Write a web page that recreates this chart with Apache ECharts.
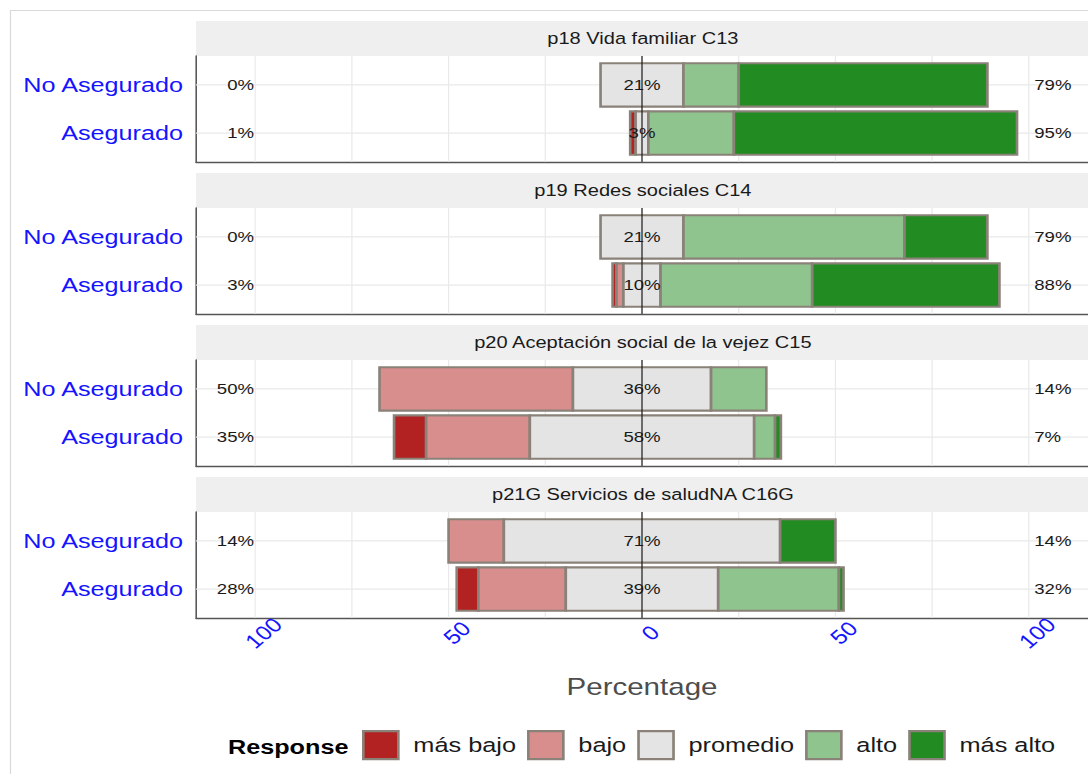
<!DOCTYPE html>
<html>
<head>
<meta charset="utf-8">
<script src="https://cdn.jsdelivr.net/npm/echarts@6/dist/echarts.min.js"></script>
<style>
  html, body { margin: 0; padding: 0; background: #fff; overflow: hidden; }
  #chart { transform-origin: 0 0; }
</style>
</head>
<body>
<div id="chart"></div>
<script>
// ---- data -------------------------------------------------------------
const facets = [
  'p18 Vida familiar C13',
  'p19 Redes sociales C14',
  'p20 Aceptación social de la vejez C15',
  'p21G Servicios de saludNA C16G'
];
const groups = ['No Asegurado', 'Asegurado'];
const levels = ['más bajo', 'bajo', 'promedio', 'alto', 'más alto'];

// percentage of answers per facet, each pair is [No Asegurado, Asegurado]
const masBajo  = [[0, 1.4],       [0, 1.0],      [0, 8.3],      [0, 5.6]];
const bajo     = [[0, 0],         [0, 1.8],      [50.0, 26.8],  [14.29, 22.6]];
const promedio = [[21.43, 3.3],   [21.43, 9.6],  [35.71, 58.0], [71.43, 39.4]];
const alto     = [[14.29, 22.1],  [57.14, 39.2], [14.29, 5.4],  [0, 31.2]];
const masAlto  = [[64.29, 73.2],  [21.43, 48.4], [0, 1.5],      [14.29, 1.2]];

const gridTicks = [-100, -75, -50, -25, 0, 25, 50, 75, 100];
const tickLabels = [-100, -50, 0, 50, 100];

// ---- styling / layout --------------------------------------------------
const S = 1.2;                    // horizontal stretch of the drawing
const W = 1088 / S, H = 774;
const sx = v => v / S;            // page x -> drawing x
const FONT = '"Liberation Sans", Arial, Helvetica, sans-serif';
const colors = ['#b22222', '#d98e8e', '#e4e4e4', '#8fc48f', '#228b22'];
const BORDER = '#8a8178';
const PANEL_L = 196, PANEL_R = 1089.8;
const FIRST_TOP = 21, STEP = 152, STRIP_H = 35, PANEL_H = 106;
const X_MIN = -115.3, X_MAX = 115.3, Y_MIN = 0.4, Y_MAX = 2.6, BAR_H = 0.9;
const LEFT_LABEL_X = -100.3, RIGHT_LABEL_X = 101.4;

const levelValues = [masBajo, bajo, promedio, alto, masAlto];
const yOf = i => groups.length - i;   // first group on top

const el = document.getElementById('chart');
el.style.width = W + 'px';
el.style.height = H + 'px';
el.style.transform = 'scaleX(' + S + ')';
const chart = echarts.init(el, null, { renderer: 'svg', width: W, height: H });

const grids = [], xAxes = [], yAxes = [], series = [];
const graphics = [
  { type: 'rect', z: -10, silent: true,
    shape: { x: sx(10.5), y: 10.5, width: 2000, height: 2000 },
    style: { fill: 'none', stroke: '#d9d9d9', lineWidth: 1 } }
];

facets.forEach((title, k) => {
  const stripTop = FIRST_TOP + STEP * k;
  const top = stripTop + STRIP_H;
  const last = k === facets.length - 1;

  graphics.push({ type: 'rect', silent: true,
    shape: { x: sx(PANEL_L), y: stripTop, width: sx(1100 - PANEL_L), height: STRIP_H },
    style: { fill: '#efefef' } });
  graphics.push({ type: 'text', silent: true,
    x: sx((PANEL_L + PANEL_R) / 2), y: stripTop + STRIP_H / 2,
    style: { text: title, font: '16.7px ' + FONT, fill: '#1a1a1a',
      align: 'center', verticalAlign: 'middle',
      textAlign: 'center', textVerticalAlign: 'middle' } });

  grids.push({ left: sx(PANEL_L), top: top, width: sx(PANEL_R - PANEL_L), height: PANEL_H,
    show: true, backgroundColor: '#ffffff', borderWidth: 0 });

  xAxes.push({
    gridIndex: k, type: 'value', min: X_MIN, max: X_MAX, position: 'bottom',
    splitLine: { show: false }, axisTick: { show: false },
    axisLine: { show: true, onZero: false, lineStyle: { color: '#555555', width: 1.3 } },
    axisLabel: last ? {
      show: true, customValues: tickLabels,
      formatter: v => String(Math.abs(v)),
      rotate: 45, align: 'center', verticalAlign: 'top', margin: 8,
      color: '#1414ff', fontSize: 20, fontFamily: FONT
    } : { show: false },
    name: last ? 'Percentage' : '',
    nameLocation: 'middle', nameGap: 56,
    nameTextStyle: { color: '#4d4d4d', fontSize: 24.6, fontFamily: FONT }
  });

  yAxes.push({
    gridIndex: k, type: 'value', min: Y_MIN, max: Y_MAX,
    splitLine: { show: false }, axisTick: { show: false },
    axisLine: { show: true, onZero: false, lineStyle: { color: '#555555', width: 1.3 } },
    axisLabel: {
      show: true, customValues: groups.map((g, i) => yOf(i)),
      formatter: v => groups[groups.length - v],
      margin: sx(13), color: '#1414ff', fontSize: 21, fontFamily: FONT
    }
  });

  // panel grid lines
  series.push({
    type: 'custom', xAxisIndex: k, yAxisIndex: k, z: 1, silent: true,
    data: gridTicks.map(v => [v]), encode: { x: 0 },
    renderItem: (params, api) => {
      const v = api.value(0);
      const a = api.coord([v, Y_MIN]), b = api.coord([v, Y_MAX]);
      return { type: 'line', shape: { x1: a[0], y1: a[1], x2: b[0], y2: b[1] },
        style: { stroke: '#e9e9e9', lineWidth: 1 } };
    }
  });
  series.push({
    type: 'custom', xAxisIndex: k, yAxisIndex: k, z: 1, silent: true,
    data: groups.map((g, i) => [yOf(i)]), encode: { y: 0 },
    renderItem: (params, api) => {
      const v = api.value(0);
      const a = api.coord([X_MIN, v]), b = api.coord([X_MAX, v]);
      return { type: 'line', shape: { x1: a[0], y1: a[1], x2: b[0], y2: b[1] },
        style: { stroke: '#e9e9e9', lineWidth: 1.2 } };
    }
  });

  // diverging stacked bars: neutral share is centred on zero
  const rows = groups.map((g, i) => {
    const vals = levelValues.map(arr => arr[k][i]);
    let start = -(vals[0] + vals[1] + vals[2] / 2);
    const segs = vals.map(v => { const s = [start, start + v]; start += v; return s; });
    return { vals, segs, y: yOf(i) };
  });

  levels.forEach((name, l) => {
    const data = [];
    rows.forEach(r => {
      if (r.vals[l] > 0) data.push([r.segs[l][0], r.segs[l][1], r.y]);
    });
    series.push({
      type: 'custom', name: name, xAxisIndex: k, yAxisIndex: k, z: 3, silent: true,
      itemStyle: { color: colors[l] },
      data: data, encode: { x: [0, 1], y: 2 },
      renderItem: (params, api) => {
        const p0 = api.coord([api.value(0), api.value(2) + BAR_H / 2]);
        const p1 = api.coord([api.value(1), api.value(2) - BAR_H / 2]);
        return { type: 'rect',
          shape: { x: p0[0], y: p0[1], width: p1[0] - p0[0], height: p1[1] - p0[1] },
          style: { fill: colors[l], stroke: BORDER, lineWidth: 2.2 } };
      }
    });
  });

  // zero line
  series.push({
    type: 'custom', xAxisIndex: k, yAxisIndex: k, z: 4, silent: true,
    data: [[0]], encode: { x: 0 },
    renderItem: (params, api) => {
      const a = api.coord([api.value(0), Y_MIN]), b = api.coord([api.value(0), Y_MAX]);
      return { type: 'line', shape: { x1: a[0], y1: a[1], x2: b[0], y2: b[1] },
        style: { stroke: '#1a1a1a', lineWidth: 1 } };
    }
  });

  // percentage labels: low side, neutral, high side
  const labels = [];
  rows.forEach(r => {
    labels.push({ x: LEFT_LABEL_X, y: r.y, align: 'right',
      text: Math.round(r.vals[0] + r.vals[1]) + '%' });
    labels.push({ x: 0, y: r.y, align: 'center',
      text: Math.round(r.vals[2]) + '%' });
    labels.push({ x: RIGHT_LABEL_X, y: r.y, align: 'left',
      text: Math.round(r.vals[3] + r.vals[4]) + '%' });
  });
  series.push({
    type: 'custom', xAxisIndex: k, yAxisIndex: k, z: 5, silent: true,
    data: labels.map(d => [d.x, d.y]), encode: { x: 0, y: 1 },
    renderItem: (params, api) => {
      const d = labels[params.dataIndex];
      const p = api.coord([api.value(0), api.value(1)]);
      return { type: 'text', x: p[0], y: p[1],
        style: { text: d.text, font: '15.5px ' + FONT, fill: '#1a1a1a',
          align: d.align, verticalAlign: 'middle',
          textAlign: d.align, textVerticalAlign: 'middle' } };
    }
  });
});

graphics.push({ type: 'text', silent: true, x: sx(228), y: 747,
  style: { text: 'Response', font: 'bold 21px ' + FONT, fill: '#000000',
    align: 'left', verticalAlign: 'middle',
    textAlign: 'left', textVerticalAlign: 'middle' } });

chart.setOption({
  animation: false,
  backgroundColor: '#ffffff',
  grid: grids,
  xAxis: xAxes,
  yAxis: yAxes,
  series: series,
  graphic: graphics,
  legend: {
    selectedMode: false,
    left: sx(362), top: 730, padding: 0,
    itemWidth: sx(35), itemHeight: 28, itemGap: sx(11),
    icon: 'rect',
    data: levels.map((n, i) => ({ name: n,
      itemStyle: { color: colors[i], borderColor: BORDER, borderWidth: 2.2 } })),
    textStyle: { fontSize: 21.1, color: '#1a1a1a', fontFamily: FONT, padding: [0, 0, 0, 7.5] }
  }
});
</script>
</body>
</html>
